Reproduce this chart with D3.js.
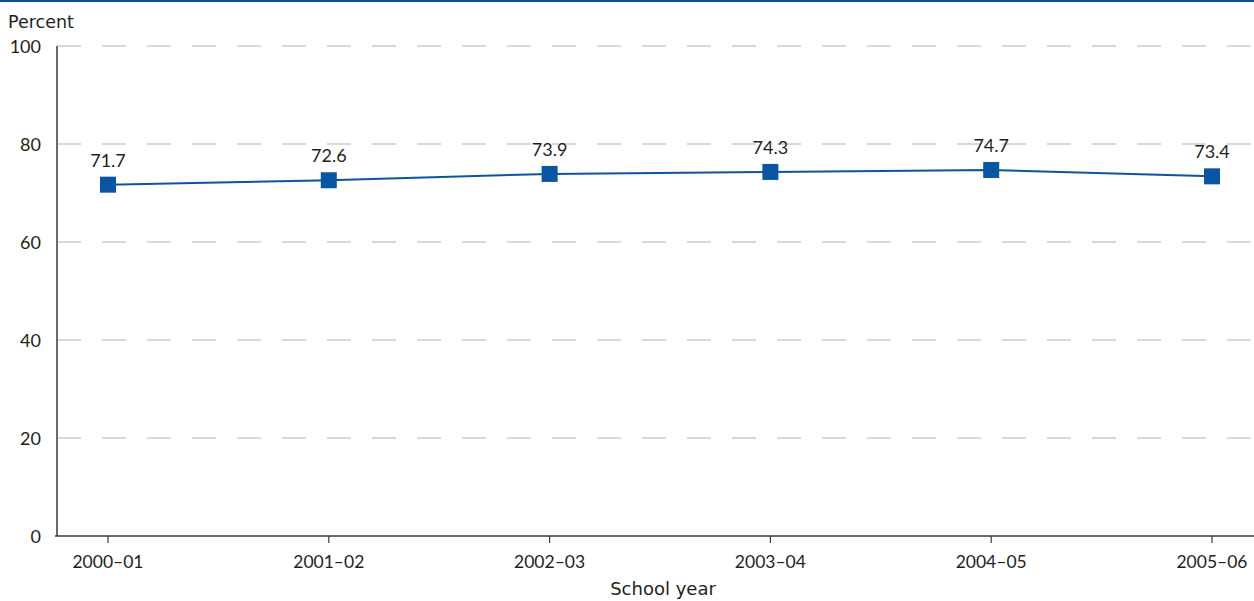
<!DOCTYPE html>
<html><head><meta charset="utf-8">
<script src="https://cdn.jsdelivr.net/npm/d3@7"></script>
<style>body{margin:0;background:#fff}svg{display:block}text{font-family:"Lato","DejaVu Sans",sans-serif;fill:#231f20}.w{font-family:"DejaVu Sans",sans-serif}</style>
</head><body>
<svg id="c" width="1254" height="601"></svg>
<script>
const years = ["2000–01","2001–02","2002–03","2003–04","2004–05","2005–06"];
const values = [71.7,72.6,73.9,74.3,74.7,73.4];
const yTicks = [0,20,40,60,80,100];

(function(){
const svg = d3.select("#c");
const W = 1254, H = 601;
const mLeft = 57, mBottom = 536, mTop = 46;
const x = d3.scalePoint().domain(years).range([108,1212]);
const y = d3.scaleLinear().domain([0,100]).range([mBottom, mTop]);
const blue = "#0a54a4";

svg.append("rect").attr("x",0).attr("y",0).attr("width",W).attr("height",2).attr("fill","#0b4f9c");

svg.append("g").selectAll("line").data(yTicks.filter(d=>d>0)).join("line")
  .attr("x1",mLeft).attr("x2",W).attr("y1",d=>y(d)).attr("y2",d=>y(d))
  .attr("stroke","#b3b3b3").attr("stroke-width",1.2).attr("stroke-dasharray","24,21");

svg.append("line").attr("x1",mLeft).attr("x2",mLeft).attr("y1",mTop).attr("y2",mBottom).attr("stroke","#3a3a3a").attr("stroke-width",1.5);
svg.append("g").selectAll("text").data(yTicks).join("text")
  .attr("x",41).attr("y",d=>y(d)+7).attr("text-anchor","end").attr("font-size",18).text(d=>d);
svg.append("text").attr("class","w").attr("x",8).attr("y",28).attr("font-size",17.5).text("Percent");

svg.append("line").attr("x1",mLeft-2).attr("x2",W).attr("y1",mBottom).attr("y2",mBottom).attr("stroke","#3a3a3a").attr("stroke-width",1.5);
const xa = svg.append("g");
xa.selectAll("line").data(years).join("line")
  .attr("x1",d=>x(d)).attr("x2",d=>x(d)).attr("y1",mBottom).attr("y2",mBottom+7).attr("stroke","#3a3a3a").attr("stroke-width",1.2);
xa.selectAll("text").data(years).join("text")
  .attr("x",d=>x(d)).attr("y",mBottom+32).attr("text-anchor","middle").attr("font-size",17.5).text(d=>d);
svg.append("text").attr("class","w").attr("x",663).attr("y",595).attr("text-anchor","middle").attr("font-size",18).text("School year");

const data = years.map((d,i)=>({k:d,v:values[i]}));
svg.append("path").datum(data)
  .attr("d", d3.line().x(d=>x(d.k)).y(d=>y(d.v)))
  .attr("fill","none").attr("stroke",blue).attr("stroke-width",2);
svg.append("g").selectAll("rect").data(data).join("rect")
  .attr("x",d=>x(d.k)-8).attr("y",d=>y(d.v)-8).attr("width",16).attr("height",16).attr("fill",blue);
svg.append("g").selectAll("text").data(data).join("text")
  .attr("x",d=>x(d.k)).attr("y",d=>y(d.v)-18).attr("text-anchor","middle").attr("font-size",18).text(d=>d.v.toFixed(1));
})();
</script>
</body></html>
